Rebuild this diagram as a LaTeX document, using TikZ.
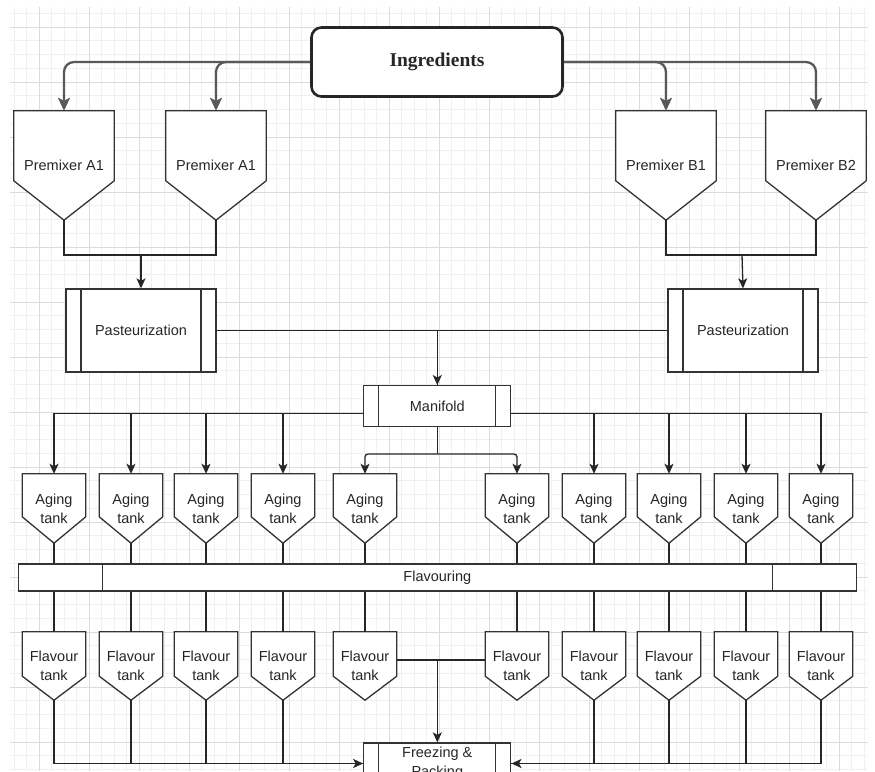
\documentclass[tikz,border=0pt]{standalone}
\usepackage{fontspec}
\setmainfont{Liberation Sans}
\newfontfamily\titrefont{Liberation Serif}
\usetikzlibrary{arrows.meta,calc,backgrounds}

% contour d'une cuve : nom du noeud, fraction de la partie droite
\newcommand{\cuve}[2]{\filldraw[cuveline] (#1.north west) -- (#1.north east) -- ($(#1.north east)!#2!(#1.south east)$) -- (#1.south) -- ($(#1.north west)!#2!(#1.south west)$) -- cycle;}

\begin{document}
\begin{tikzpicture}[x=1pt, y=-1pt,
                    every node/.style={align=center, inner sep=0pt, text=black!85, font=\fontsize{14.5}{19}\selectfont},
                    titre/.style={draw=black!85, line width=2.6pt, rounded corners=10pt, fill=white, minimum width=251pt, minimum height=69pt, font=\titrefont\bfseries\fontsize{19.5}{22}\selectfont},
                    hopper/.style={rectangle, minimum width=100pt, minimum height=109pt},
                    tank/.style={rectangle, minimum width=63pt, minimum height=69pt},
                    cuveline/.style={draw=black!80, fill=white, line width=1.3pt, line join=miter},
                    process/.style={rectangle, draw=black!80, line width=1.3pt, fill=white,
                        path picture={\draw[black!80, line width=1.3pt]
                            ([xshift=#1]path picture bounding box.north west) -- ([xshift=#1]path picture bounding box.south west)
                            ([xshift=-#1]path picture bounding box.north east) -- ([xshift=-#1]path picture bounding box.south east);}},
                    process/.default=15pt,
                    pipe/.style={draw=black!85, line width=1.3pt},
                    flow/.style={pipe, -{Stealth[length=10pt, width=9pt, inset=2.5pt]}},
                    feed/.style={draw=black!65, line width=2.3pt, rounded corners=10pt, -{Stealth[length=13pt, width=12pt, inset=3pt]}},
                    gridminor/.style={draw=black!6, line width=0.8pt},
                    gridmajor/.style={draw=black!14, line width=0.9pt}
                ]

                \useasboundingbox (0,0) rectangle (875,771);
                \clip (0,0) rectangle (875,771);

                % Grille de fond
                \begin{scope}[on background layer]
                    \fill[white] (0,0) rectangle (875,771);
                    \foreach \k in {1,...,69} \draw[gridminor] ({1.5+12.5*\k},7) -- ({1.5+12.5*\k},771);
                    \foreach \k in {0,...,55} \draw[gridminor] (10,{13.25+13.75*\k}) -- (868,{13.25+13.75*\k});
                    \foreach \k in {0,...,16} \draw[gridmajor] ({39+50*\k},7) -- ({39+50*\k},771);
                    \foreach \k in {0,...,13} \draw[gridmajor] (10,{27+55*\k}) -- (868,{27+55*\k});
                \end{scope}

                % Noeuds
                \node[titre] (ingr) at (437,62) {Ingredients};
                \node[hopper] (pmA1) at (64,165.5) {Premixer A1};
                \node[hopper] (pmA2) at (216,165.5) {Premixer A1};
                \node[hopper] (pmB1) at (666,165.5) {Premixer B1};
                \node[hopper] (pmB2) at (816,165.5) {Premixer B2};
                \node[process, minimum width=150pt, minimum height=83pt] (pastA) at (141,330.5) {Pasteurization};
                \node[process, minimum width=150pt, minimum height=83pt] (pastB) at (743,330.5) {Pasteurization};
                \node[process, minimum width=147pt, minimum height=41pt] (mani) at (437.3,406.2) {Manifold};
                \node[process=84pt, minimum width=838pt, minimum height=27pt] (flav) at (437.3,577.6) {Flavouring};
                \node[process, minimum width=147pt, minimum height=41pt] (frz) at (437.3,763.5) {Freezing \&\\Packing};
                \foreach \x [count=\i] in {54,131,206,283,365,517,594,669,746,821}{
                    \node[tank] (age\i) at (\x,508.5) {Aging\\tank};
                    \node[tank, minimum height=68pt] (fl\i) at (\x,666) {Flavour\\tank};
                }
                \coordinate (jA) at (141,255);
                \coordinate (jB) at (742,255);
                \coordinate (jM) at (437.3,454);

                \begin{scope}[on background layer]
                    \foreach \n in {pmA1,pmA2,pmB1,pmB2}{\cuve{\n}{0.64}}
                    \foreach \i in {1,...,10}{
                        \cuve{age\i}{0.62}
                        \cuve{fl\i}{0.65}
                    }
                \end{scope}

                % Liaisons
                \draw[feed] (ingr.west) -| (pmA1.north);
                \draw[feed] (ingr.west) -| (pmA2.north);
                \draw[feed] (ingr.east) -| (pmB1.north);
                \draw[feed] (ingr.east) -| (pmB2.north);
                \draw[pipe] (pmA1.south) |- (jA) -| (pmA2.south);
                \draw[pipe] (pmB1.south) |- (jB) -| (pmB2.south);
                \draw[flow] (jA) -- (pastA.north);
                \draw[flow] (jB) -- (pastB.north);
                \draw[flow] (pastA.east) -| (mani.north);
                \draw[pipe] (pastB.west) -| (mani.north);
                \foreach \i in {1,...,4} \draw[flow] ([yshift=-7pt]mani.west) -| (age\i.north);
                \foreach \i in {7,...,10} \draw[flow] ([yshift=-7pt]mani.east) -| (age\i.north);
                \draw[pipe] (mani.south) -- (jM);
                \draw[flow, rounded corners=3pt] (jM) -| (age5.north);
                \draw[flow, rounded corners=3pt] (jM) -| (age6.north);
                \foreach \i in {1,...,10}{
                    \draw[pipe] (age\i.south) -- (age\i.south |- flav.north);
                    \draw[pipe] (age\i.south |- flav.south) -- (fl\i.north);
                }
                \foreach \i in {2,3,4} \draw[pipe] (fl\i.south) |- (frz.west);
                \foreach \i in {7,8,9} \draw[pipe] (fl\i.south) |- (frz.east);
                \draw[flow, line width=1.8pt] (fl1.south) |- (frz.west);
                \draw[flow, line width=1.8pt] (fl10.south) |- (frz.east);
                \draw[pipe] ([yshift=6pt]fl5.east) -- ([yshift=6pt]fl6.west);
                \draw[flow] ([yshift=6pt]fl5.east -| frz.north) -- (frz.north);

                \end{tikzpicture}
\end{document}
